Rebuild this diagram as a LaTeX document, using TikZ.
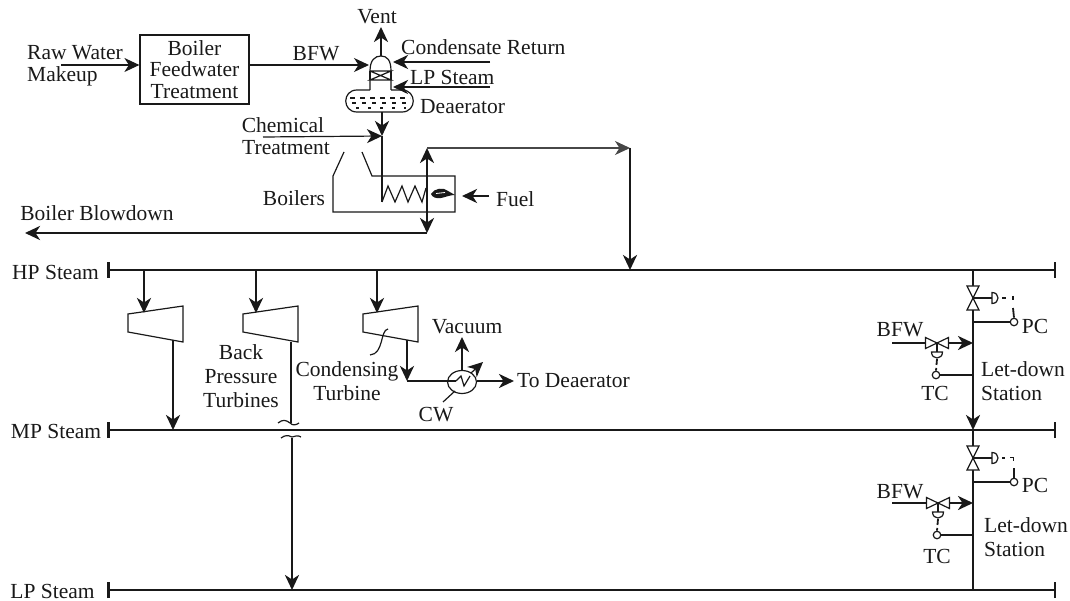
\documentclass[tikz,border=0pt]{standalone}
\usepackage{fontspec}
\setmainfont{Liberation Serif}
\usetikzlibrary{arrows.meta,shapes.geometric}
\definecolor{ink}{gray}{0.1}
\tikzset{
  lbl/.style={inner sep=0pt,align=center,font=\fontsize{21.5}{24}\selectfont,text=ink},
  lbll/.style={lbl,align=left,anchor=west},
  thin line/.style={draw=ink,line width=1.2pt},
  thick line/.style={draw=ink,line width=2.8pt},
  tip/.style={-{Stealth[length=15pt,width=14pt,inset=4.5pt]}},
  tiptwo/.style={{Stealth[length=15pt,width=14pt,inset=4.5pt]}-{Stealth[length=15pt,width=14pt,inset=4.5pt]}},
  ctrl/.style={circle,draw=ink,line width=1.2pt,fill=white,minimum size=7.5pt,inner sep=0pt},
  sigline/.style={draw=ink,line width=1.8pt},
  pics/vvalve/.style={code={
    \draw[thin line,fill=white] (-6,-12) -- (6,-12) -- (-6,12) -- (6,12) -- cycle;
  }},
  pics/hvalve/.style={code={
    \draw[thin line,fill=white] (-11.5,-5.5) -- (11.5,5.5) -- (11.5,-5.5) -- (-11.5,5.5) -- cycle;
  }},
  pics/dright/.style={code={
    \draw[thin line,fill=white] (0,-5.5) -- (0,5.5) .. controls (8,5.5) and (8,-5.5) .. (0,-5.5) -- cycle;
  }},
  pics/ddown/.style={code={
    \draw[thin line,fill=white] (-5.5,0) -- (5.5,0) .. controls (5.5,8) and (-5.5,8) .. (-5.5,0) -- cycle;
  }},
}
\begin{document}
\begin{tikzpicture}[x=1pt,y=-1pt]
\useasboundingbox (0,0) rectangle (1070,601);

% ---------- headers
\node[lbl] (hp) at (55.5,272) {HP Steam};
\node[lbl] (mp) at (56,431) {MP Steam};
\node[lbl] (lp) at (52.5,591) {LP Steam};
\foreach \n/\y in {h/270,m/430,l/590}{
  \coordinate (\n a) at (108.5,\y);
  \coordinate (\n b) at (1055,\y);
  \draw[thick line] (\n a) -- (\n b);
  \draw[thick line] ([yshift=-8pt]\n a) -- ([yshift=8pt]\n a);
  \draw[thick line] ([yshift=-8pt]\n b) -- ([yshift=8pt]\n b);
}

% ---------- feedwater
\node[lbll,font=\fontsize{21.5}{22}\selectfont] (raw) at (27,66) {Raw Water\\Makeup};
\node[lbl,draw=ink,line width=1.2pt,minimum width=109pt,minimum height=69pt,inner sep=0pt,
      font=\fontsize{21.5}{21.5}\selectfont] (bft) at (194.5,69.5) {Boiler\\Feedwater\\Treatment};
\coordinate (rawe) at (61,65);
\draw[thin line,tip] (rawe) -- (rawe -| bft.west);
\node[lbl] (bfw) at (316,54) {BFW};
\coordinate (dein) at (369,65);
\draw[thin line,tip] (bft.east |- dein) -- (dein);

% deaerator
\draw[thin line,fill=white] (370,90) -- (370,71) .. controls (370,60) and (375,56) .. (381,56)
   .. controls (387,56) and (391,60) .. (391,71) -- (391,90);
\draw[thin line] (370,71) -- (391,71) -- (370,80) -- (391,80) -- (370,71);
\draw[thin line] (370,71) -- (370,80) (391,71) -- (391,80);
\draw[thin line] (370,90) -- (357,90) .. controls (342,90) and (342,112) .. (357,112)
   -- (402,112) .. controls (417,112) and (417,90) .. (402,90) -- (391,90);
\draw[draw=ink,line width=1.1pt,dash pattern=on 5pt off 5pt] (350,98) -- (410,98);
\draw[draw=ink,line width=1.1pt,dash pattern=on 4pt off 6pt] (352,103) -- (410,103);
\draw[draw=ink,line width=1.1pt,dash pattern=on 3pt off 9pt] (356,108) -- (406,108);
\coordinate (detop) at (381,56);
\coordinate (vent) at (381,27);
\draw[thick line,tip] (detop) -- (vent);
\node[lbl] (ventl) at (377,17) {Vent};
\coordinate (cs) at (490,62); \coordinate (ce) at (393,62);
\draw[thick line,tip] (cs) -- (ce);
\node[lbll] (cond) at (401,47) {Condensate Return};
\coordinate (ls) at (490,87); \coordinate (le) at (393,87);
\draw[thick line,tip] (ls) -- (le);
\node[lbll] (lpl) at (410,77) {LP Steam};
\node[lbll] (dea) at (420,107) {Deaerator};

\coordinate (deb) at (382,112);
\coordinate (junc) at (382,136);
\draw[thick line,tip] (deb) -- (junc);
\coordinate (chem) at (263,137);
\draw[thin line,tip] (chem) -- (junc);
\node[lbl] (cheml) at (283,125) {Chemical};
\node[lbl] (treat) at (286,148) {Treatment};

% boiler
\coordinate (coil0) at (382,202);
\draw[thin line] (junc) -- (coil0);
\draw[thin line] (344,152) -- (333,176) -- (333,212) -- (455,212) -- (455,176) -- (372,176) -- (362,152);
\draw[thin line] (coil0) -- (388,186) -- (395,202) -- (402,186) -- (408,202) -- (415,186) -- (422,202) -- (426,188);
\node[lbl] (boil) at (294,198) {Boilers};
\fill[ink] (431,194) .. controls (434,188) and (444,187) .. (448,191) .. controls (450,193) and (453,193) .. (455,195)
   .. controls (450,195) and (446,197) .. (441,198) .. controls (436,199) and (432,197) .. (431,194) -- cycle;
\draw[white,line width=0.8pt] (436,193.5) -- (445,192.5);
\coordinate (fs) at (489,196); \coordinate (fe) at (462,196);
\draw[thick line,tip] (fs) -- (fe);
\node[lbll] (fuel) at (496,199) {Fuel};

\coordinate (up) at (427,148); \coordinate (dn) at (427,233);
\draw[thick line,tiptwo] (up) -- (dn);
\coordinate (bb) at (25,233);
\draw[thick line,tip] (dn) -- (bb);
\node[lbl] (blow) at (97,213) {Boiler Blowdown};
\coordinate (rt) at (630,148); \coordinate (rb) at (630,270);
\draw[thin line,draw=ink!80,tip] (up) -- (rt);
\draw[thick line,tip] (rt) -- (rb);

% ---------- turbines
\foreach \n/\x in {one/128,two/243,three/363}{
  \draw[thin line,fill=white] (\x,314) -- (\x+55,306) -- (\x+55,342) -- (\x,332) -- cycle;
}
\coordinate (ti1) at (144,313); \coordinate (ti2) at (256,313); \coordinate (ti3) at (377,313);
\draw[thick line,tip] (ti1 |- ha) -- (ti1);
\draw[thick line,tip] (ti2 |- ha) -- (ti2);
\draw[thick line,tip] (ti3 |- ha) -- (ti3);
\coordinate (to1) at (173,340); \coordinate (to2) at (291,342); \coordinate (to3) at (407,340);
\draw[thick line,tip] (to1) -- (to1 |- ma);
\coordinate (br1) at (291,423); \coordinate (br2) at (292,438);
\draw[thick line] (to2) -- (br1);
\draw[thin line] (278,423) .. controls (283,419) and (286,420) .. (290,423) .. controls (293,426) and (296,425) .. (299,423);
\draw[thin line] (281,438) .. controls (285,435) and (288,435) .. (292,437) .. controls (295,436) and (298,435) .. (301,437);
\draw[thick line,tip] (br2) -- (br2 |- la);
\node[lbl] (bpt) at (241,376) {Back\\Pressure\\Turbines};
\node[lbl] (cdt) at (347,381) {Condensing\\Turbine};
\draw[thin line] (388,329) .. controls (380,330) and (384,354) .. (370,355);

% condenser
\node[ellipse,draw=ink,line width=1.2pt,minimum width=29pt,minimum height=23pt,inner sep=0pt,fill=white] (hx) at (462,382) {};
\coordinate (tc3) at (407,381);
\draw[thick line,tip] (to3) -- (tc3);
\draw[thick line] (tc3) -- (456,381);
\coordinate (td) at (514,381);
\draw[thick line,tip] (hx.east |- td) -- (td);
\draw[thin line] (456,381) -- (461,376) -- (464,386) -- (470,376);
\coordinate (vac) at (462,337);
\draw[thick line,tip] (hx.north) -- (vac);
\node[lbl] (vacl) at (467,327) {Vacuum};
\coordinate (d1) at (471,373); \coordinate (d2) at (483,362);
\draw[thin line,tip] (d1) -- (d2);
\coordinate (cw) at (443,402);
\draw[thin line] (cw) -- (455,391);
\node[lbl] (cwl) at (436,415) {CW};
\node[lbll] (tdl) at (517,381) {To Deaerator};

% ---------- let-down HP/MP
\coordinate (v1) at (973,298);
\coordinate (v1b) at (973,430);
\draw[thick line,tip] (v1 |- ha) -- (v1b);
\pic at (v1) {vvalve};
\coordinate (a1) at (992,298);
\draw[thick line] (v1) -- (a1);
\pic at (a1) {dright};
\node[ctrl] (pc1) at (1014,322) {};
\draw[sigline] (1002,298) -- (1006,298);
\draw[sigline] (1013,296) -- (1013,300);
\draw[sigline] (1013,308) -- (pc1.north);
\draw[thick line] (973,322) -- (pc1.west);
\node[lbl] (pc1l) at (1035,326) {PC};
\coordinate (bfs1) at (892,343);
\coordinate (bfv1) at (937,343);
\draw[thick line] (bfs1) -- (bfv1);
\draw[thick line,tip] (bfv1) -- (973,343);
\pic at (bfv1) {hvalve};
\draw[thick line] (bfv1) -- (937,352);
\pic at (937,352) {ddown};
\node[ctrl] (tc1) at (936,375) {};
\draw[sigline,dash pattern=on 6pt off 3pt] (937,359) -- (tc1.north);
\draw[thick line] (tc1.east) -- (973,375);
\node[lbl] (bfw1) at (900,330) {BFW};
\node[lbl] (tc1l) at (935,393) {TC};
\node[lbll] (st1) at (981,381) {Let-down\\Station};

% ---------- let-down MP/LP
\coordinate (v2) at (973,458);
\draw[thick line] (v2 |- ma) -- (v2 |- la);
\pic at (v2) {vvalve};
\coordinate (a2) at (992,458);
\draw[thick line] (v2) -- (a2);
\pic at (a2) {dright};
\node[ctrl] (pc2) at (1014,482) {};
\draw[sigline] (1002,458) -- (1005,458);
\draw[sigline] (1010,457.5) -- (1013.5,457.5) -- (1013.5,461);
\draw[sigline] (1014,468) -- (pc2.north);
\draw[thick line] (973,482) -- (pc2.west);
\node[lbl] (pc2l) at (1035,485) {PC};
\coordinate (bfs2) at (892,503);
\coordinate (bfv2) at (938,503);
\draw[thick line] (bfs2) -- (bfv2);
\draw[thick line,tip] (bfv2) -- (973,503);
\pic at (bfv2) {hvalve};
\draw[thick line] (bfv2) -- (938,512);
\pic at (938,512) {ddown};
\node[ctrl] (tc2) at (937,535) {};
\draw[sigline,dash pattern=on 6pt off 3pt] (938,519) -- (tc2.north);
\draw[thick line] (tc2.east) -- (973,535);
\node[lbl] (bfw2) at (900,492) {BFW};
\node[lbl] (tc2l) at (937,556) {TC};
\node[lbll] (st2) at (984,537) {Let-down\\Station};
\end{tikzpicture}
\end{document}
